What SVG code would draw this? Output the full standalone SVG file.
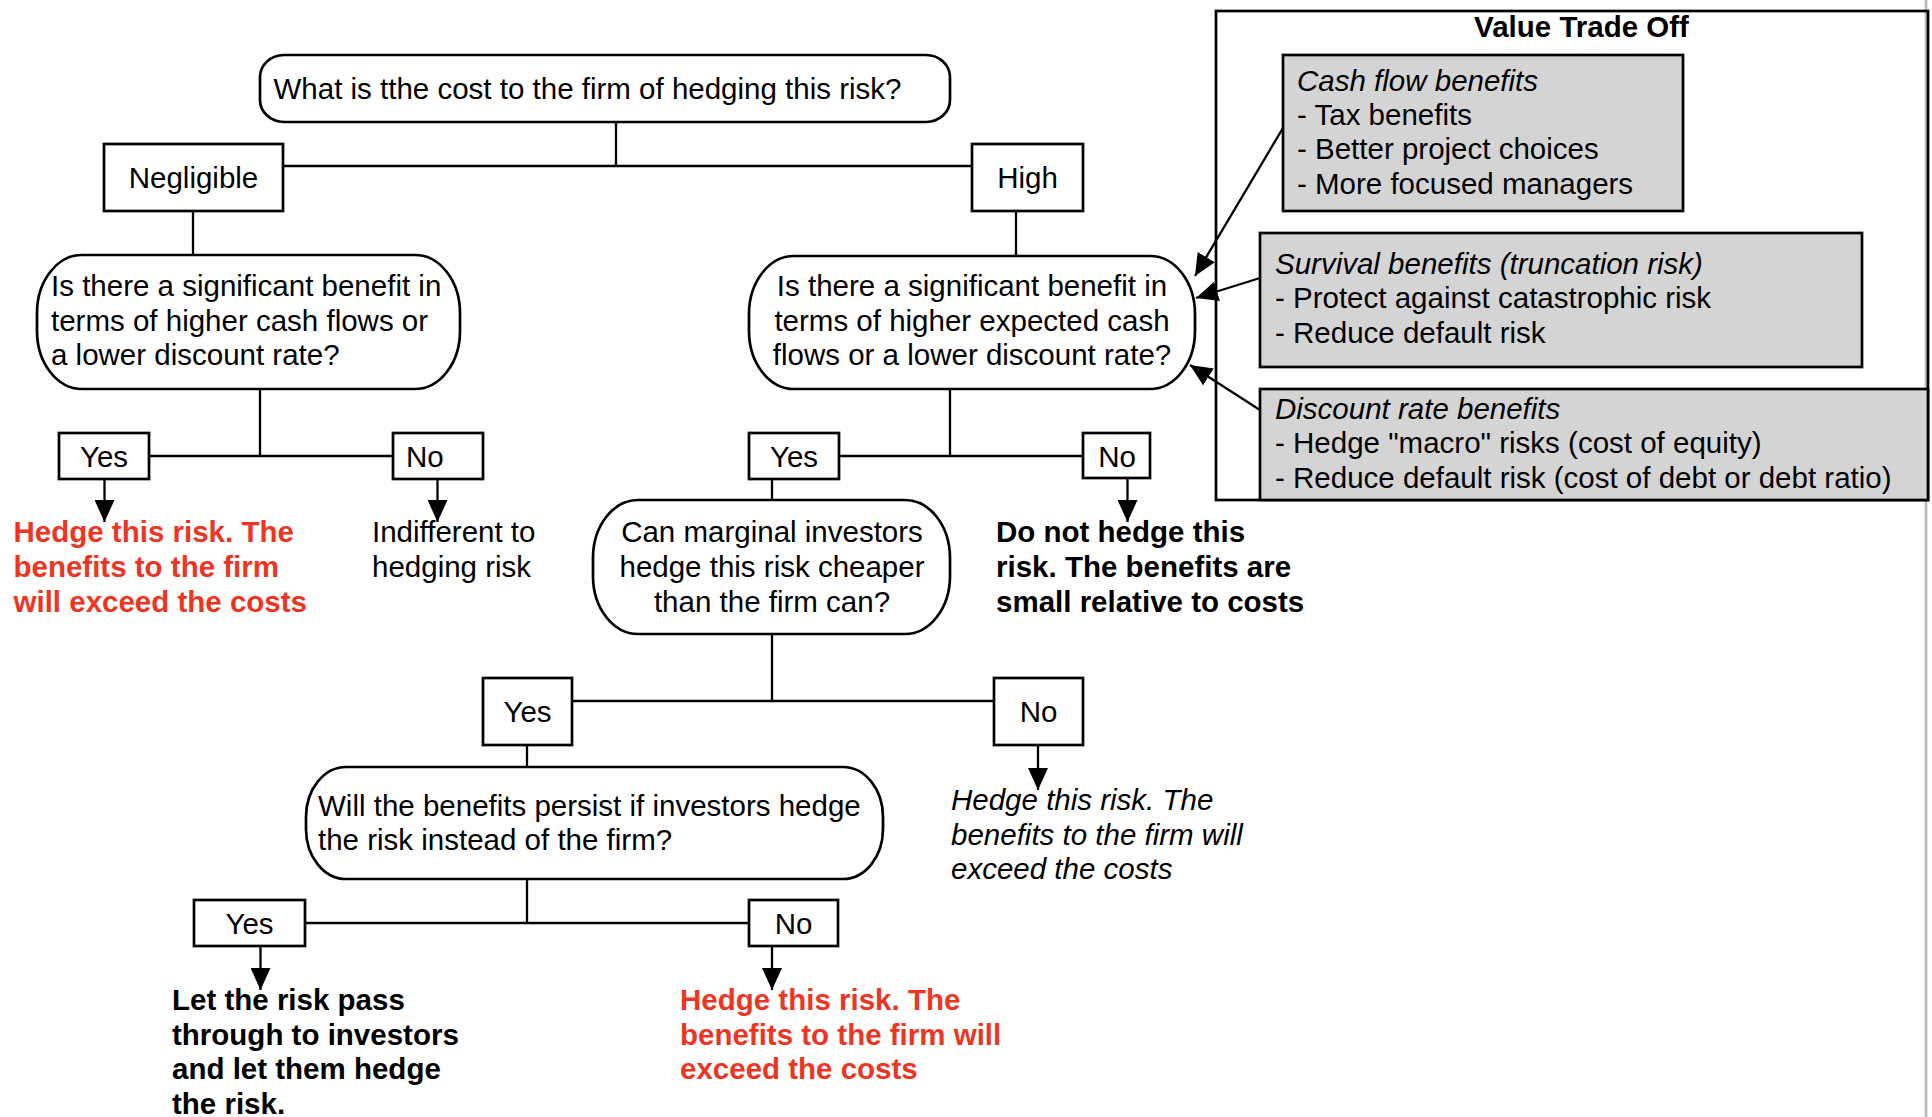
<svg xmlns="http://www.w3.org/2000/svg" width="1932" height="1117" viewBox="0 0 1932 1117">
<style>
.box{fill:#fff;stroke:#000;stroke-width:2.7}
.gray{fill:#d4d4d4;stroke:#000;stroke-width:2.7}
.t{font-family:"Liberation Sans",Arial,Helvetica,sans-serif;font-size:29.5px;fill:#000}
.b{font-weight:bold}
.i{font-style:italic}
.red{fill:#EE3524}
.c{text-anchor:middle}
.ln{stroke:#000;stroke-width:2.3;fill:none}
.ar{marker-end:url(#ah)}
</style>
<defs>
<marker id="ah" viewBox="0 0 22 20" markerUnits="userSpaceOnUse" markerWidth="22" markerHeight="20" refX="22" refY="10" orient="auto">
<path d="M0,0 L22,10 L0,20 Z" fill="#000"/>
</marker>
</defs>
<rect width="1932" height="1117" fill="#fff"/>
<line x1="1926" y1="0" x2="1926" y2="1117" stroke="#bdbdbd" stroke-width="2.8"/>

<g id="connectors">
<path class="ln" d="M616 122 V166 M283 166 H972"/>
<path class="ln" d="M193 211 V255"/>
<path class="ln" d="M1016 211 V256"/>
<path class="ln" d="M260 389 V456 M149 456 H393"/>
<path class="ln ar" d="M104.5 479 V522"/>
<path class="ln ar" d="M437.5 479 V522"/>
<path class="ln" d="M950 389 V456 M839 456 H1083"/>
<path class="ln ar" d="M1127.5 478 V522"/>
<path class="ln" d="M772 479 V500"/>
<path class="ln" d="M772 634 V701 M572 701 H994"/>
<path class="ln ar" d="M1038 745 V790"/>
<path class="ln" d="M527 745 V767"/>
<path class="ln" d="M527 879 V923 M305 923 H749"/>
<path class="ln ar" d="M260.5 946 V990"/>
<path class="ln ar" d="M772 946 V990"/>
<path class="ln ar" d="M1283 128 L1195 276"/>
<path class="ln ar" d="M1260 278 L1196 298"/>
<path class="ln ar" d="M1260 410 L1190 365"/>
</g>

<g id="q-cost">
<rect class="box" x="260" y="55" width="690" height="67" rx="24" ry="22"/>
<text class="t" x="273.5" y="99">What is tthe cost to the firm of hedging this risk?</text>
</g>
<g id="negligible">
<rect class="box" x="104" y="144" width="179" height="67"/>
<text class="t c" x="193.5" y="188">Negligible</text>
</g>
<g id="high">
<rect class="box" x="972" y="144" width="111" height="67"/>
<text class="t c" x="1027.5" y="188">High</text>
</g>
<g id="q-benefit-left">
<rect class="box" x="37" y="255" width="423" height="134" rx="45" ry="58"/>
<text class="t" x="51"><tspan x="51" y="296">Is there a significant benefit in</tspan><tspan x="51" y="330.5">terms of higher cash flows or</tspan><tspan x="51" y="365">a lower discount rate?</tspan></text>
</g>
<g id="q-benefit-right">
<rect class="box" x="749" y="256" width="446" height="133" rx="45" ry="58"/>
<text class="t c"><tspan x="972" y="296">Is there a significant benefit in</tspan><tspan x="972" y="330.5">terms of higher expected cash</tspan><tspan x="972" y="365">flows or a lower discount rate?</tspan></text>
</g>
<g id="yes-left">
<rect class="box" x="59" y="433" width="90" height="46"/>
<text class="t c" x="104" y="466.5">Yes</text>
</g>
<g id="no-left">
<rect class="box" x="393" y="433" width="90" height="46"/>
<text class="t" x="406" y="466.5">No</text>
</g>
<g id="result-hedge-1">
<text class="t b red"><tspan x="13.5" y="542">Hedge this risk. The</tspan><tspan x="13.5" y="577">benefits to the firm</tspan><tspan x="13.5" y="611.5">will exceed the costs</tspan></text>
</g>
<g id="result-indifferent">
<text class="t"><tspan x="372" y="542">Indifferent to</tspan><tspan x="372" y="577">hedging risk</tspan></text>
</g>
<g id="yes-right">
<rect class="box" x="749" y="433" width="90" height="46"/>
<text class="t c" x="794" y="466.5">Yes</text>
</g>
<g id="no-right">
<rect class="box" x="1083" y="433" width="67" height="45"/>
<text class="t c" x="1117" y="466.5">No</text>
</g>
<g id="result-donot">
<text class="t b"><tspan x="996" y="542">Do not hedge this</tspan><tspan x="996" y="577">risk. The benefits are</tspan><tspan x="996" y="611.5">small relative to costs</tspan></text>
</g>
<g id="q-marginal">
<rect class="box" x="593" y="500" width="357" height="134" rx="45" ry="58"/>
<text class="t c"><tspan x="772" y="542">Can marginal investors</tspan><tspan x="772" y="577">hedge this risk cheaper</tspan><tspan x="772" y="611.5">than the firm can?</tspan></text>
</g>
<g id="yes-3">
<rect class="box" x="483" y="678" width="89" height="67"/>
<text class="t c" x="527.5" y="722">Yes</text>
</g>
<g id="no-3">
<rect class="box" x="994" y="678" width="89" height="67"/>
<text class="t c" x="1038.5" y="722">No</text>
</g>
<g id="result-hedge-italic">
<text class="t i"><tspan x="951" y="810">Hedge this risk. The</tspan><tspan x="951" y="844.5">benefits to the firm will</tspan><tspan x="951" y="879">exceed the costs</tspan></text>
</g>
<g id="q-persist">
<rect class="box" x="306" y="767" width="577" height="112" rx="40" ry="50"/>
<text class="t"><tspan x="318" y="815.5">Will the benefits persist if investors hedge</tspan><tspan x="318" y="850">the risk instead of the firm?</tspan></text>
</g>
<g id="yes-4">
<rect class="box" x="194" y="900" width="111" height="46"/>
<text class="t c" x="249.5" y="933.5">Yes</text>
</g>
<g id="no-4">
<rect class="box" x="749" y="900" width="89" height="46"/>
<text class="t c" x="793.5" y="933.5">No</text>
</g>
<g id="result-pass">
<text class="t b"><tspan x="172" y="1010">Let the risk pass</tspan><tspan x="172" y="1044.5">through to investors</tspan><tspan x="172" y="1079">and let them hedge</tspan><tspan x="172" y="1113.5">the risk.</tspan></text>
</g>
<g id="result-hedge-2">
<text class="t b red"><tspan x="680" y="1010">Hedge this risk. The</tspan><tspan x="680" y="1044.5">benefits to the firm will</tspan><tspan x="680" y="1079">exceed the costs</tspan></text>
</g>

<g id="value-trade-off">
<rect class="box" x="1216" y="11" width="712" height="489" style="fill:none"/>
<text class="t b c" x="1581.5" y="37">Value Trade Off</text>
</g>
<g id="cash-flow-benefits">
<rect class="gray" x="1283" y="55" width="400" height="156"/>
<text class="t"><tspan x="1297" y="91" font-style="italic">Cash flow benefits</tspan><tspan x="1297" y="125">- Tax benefits</tspan><tspan x="1297" y="159">- Better project choices</tspan><tspan x="1297" y="193.5">- More focused managers</tspan></text>
</g>
<g id="survival-benefits">
<rect class="gray" x="1260" y="233" width="602" height="134"/>
<text class="t"><tspan x="1275" y="273.5" font-style="italic">Survival benefits (truncation risk)</tspan><tspan x="1275" y="308">- Protect against catastrophic risk</tspan><tspan x="1275" y="342.5">- Reduce default risk</tspan></text>
</g>
<g id="discount-rate-benefits">
<rect class="gray" x="1260" y="389" width="668" height="111"/>
<text class="t"><tspan x="1275" y="419" font-style="italic">Discount rate benefits</tspan><tspan x="1275" y="453">- Hedge "macro" risks (cost of equity)</tspan><tspan x="1275" y="488">- Reduce default risk (cost of debt or debt ratio)</tspan></text>
</g>
</svg>
